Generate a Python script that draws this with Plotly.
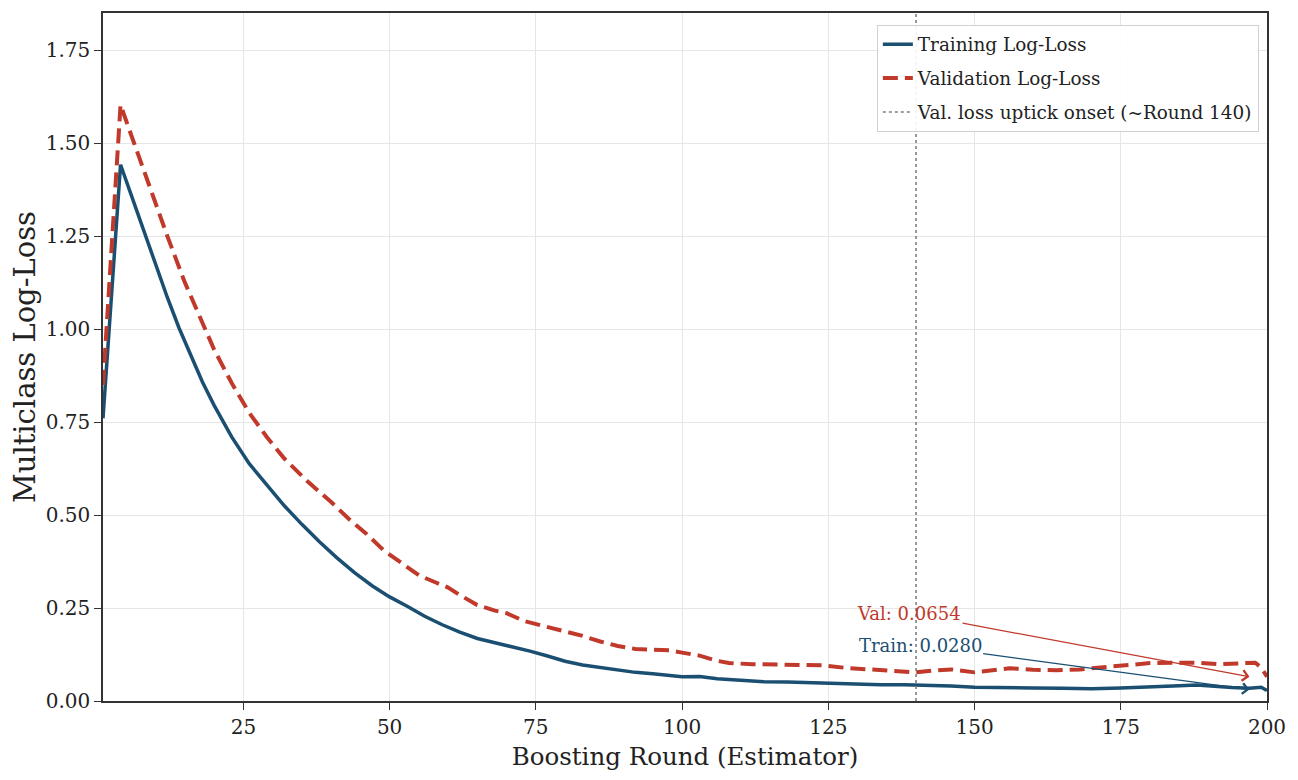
import plotly.graph_objects as go

# ---- data ----
train_rounds = [1, 2, 3, 4, 6, 8, 10, 12, 14, 16, 18, 20, 23, 26, 29, 32, 35, 38, 41, 44,
                47, 50, 53, 56, 59, 62, 65, 68, 71, 74, 77, 80, 83, 86, 89, 92, 95, 98, 100,
                103, 106, 110, 114, 118, 122, 126, 130, 134, 138, 142, 146, 150, 155, 160,
                165, 170, 175, 180, 185, 188, 191, 194, 197, 199, 200]
train_loss = [0.76, 0.99, 1.22, 1.442, 1.353, 1.262, 1.172, 1.085, 1.003, 0.928, 0.858,
              0.795, 0.71, 0.638, 0.58, 0.525, 0.475, 0.428, 0.385, 0.345, 0.31, 0.28,
              0.255, 0.228, 0.205, 0.185, 0.168, 0.157, 0.146, 0.134, 0.121, 0.107, 0.097,
              0.090, 0.083, 0.077, 0.073, 0.068, 0.065, 0.066, 0.060, 0.056, 0.052, 0.051,
              0.049, 0.048, 0.046, 0.044, 0.044, 0.043, 0.040, 0.037, 0.035, 0.035, 0.034,
              0.033, 0.035, 0.037, 0.041, 0.043, 0.039, 0.036, 0.034, 0.037, 0.028]

val_rounds = [1, 2, 3, 4, 6, 9, 12, 15, 18, 20, 23, 26, 29, 32, 36, 40, 43, 46, 49, 52, 55,
              58, 60, 62, 65, 68, 70, 73, 76, 80, 83, 86, 89, 92, 95, 98, 100, 103, 106,
              108, 112, 116, 120, 124, 128, 132, 136, 140, 143, 146, 150, 153, 156, 160,
              164, 168, 172, 176, 180, 184, 188, 192, 196, 198, 199, 200]
val_loss = [0.85, 1.10, 1.35, 1.603, 1.514, 1.38, 1.25, 1.125, 1.013, 0.945, 0.855, 0.775,
            0.71, 0.652, 0.59, 0.535, 0.49, 0.45, 0.405, 0.37, 0.338, 0.318, 0.305, 0.285,
            0.258, 0.243, 0.236, 0.215, 0.203, 0.187, 0.175, 0.160, 0.148, 0.140, 0.139,
            0.136, 0.130, 0.122, 0.108, 0.102, 0.099, 0.097, 0.097, 0.096, 0.089, 0.085,
            0.080, 0.077, 0.082, 0.085, 0.077, 0.083, 0.088, 0.084, 0.083, 0.085, 0.090,
            0.096, 0.102, 0.103, 0.103, 0.099, 0.102, 0.103, 0.090, 0.0654]

uptick_round = 140
final_train = 0.0280
final_val = 0.0654
x_ticks = [25, 50, 75, 100, 125, 150, 175, 200]
y_ticks = [0.0, 0.25, 0.5, 0.75, 1.0, 1.25, 1.5, 1.75]

TRAIN_C = "#1b4f72"
VAL_C = "#c0392b"
FONT = "DejaVu Serif"

fig = go.Figure()
fig.add_trace(go.Scatter(x=train_rounds, y=train_loss, mode="lines",
                         name="Training Log-Loss", legendgroup="a",
                         line=dict(color=TRAIN_C, width=3.5)))
fig.add_trace(go.Scatter(x=val_rounds, y=val_loss, mode="lines",
                         name="Validation Log-Loss", legendgroup="b",
                         line=dict(color=VAL_C, width=4, dash="15px,7px")))
fig.add_trace(go.Scatter(x=[uptick_round, uptick_round], y=[0, 1.85], mode="lines",
                         name="Val. loss uptick onset (~Round 140)", legendgroup="c",
                         line=dict(color="#7f7f7f", width=1.6, dash="dot")))

fig.add_annotation(x=197, y=final_val, ax=138.8, ay=0.236, axref="x", ayref="y",
                   xref="x", yref="y", text=f"Val: {final_val:.4f}",
                   font=dict(family=FONT, size=18, color=VAL_C),
                   showarrow=True, arrowhead=4, arrowsize=1.6, arrowwidth=1.3,
                   arrowcolor=VAL_C)
fig.add_annotation(x=197, y=0.031, ax=140.7, ay=0.150, axref="x", ayref="y",
                   xref="x", yref="y", text=f"Train: {final_train:.4f}",
                   font=dict(family=FONT, size=18, color=TRAIN_C),
                   showarrow=True, arrowhead=4, arrowsize=1.6, arrowwidth=1.3,
                   arrowcolor=TRAIN_C)

axis_common = dict(showgrid=True, gridcolor="#e6e6e6", gridwidth=1,
                   showline=True, linecolor="#333333", linewidth=1.5, mirror=True,
                   ticks="outside", ticklen=7, tickwidth=1.3, tickcolor="#333333",
                   tickfont=dict(family=FONT, size=20, color="#222222"),
                   zeroline=False)

fig.update_xaxes(range=[1, 200], tickvals=x_ticks,
                 title=dict(text="Boosting Round (Estimator)",
                            font=dict(family=FONT, size=24.5, color="#222222"),
                            standoff=10),
                 **axis_common)
fig.update_yaxes(range=[0, 1.85], tickvals=y_ticks, tickformat=".2f",
                 title=dict(text="Multiclass Log-Loss",
                            font=dict(family=FONT, size=29, color="#222222"),
                            standoff=8),
                 **axis_common)

fig.update_layout(
    width=1298, height=780,
    margin=dict(l=95, r=39, t=3, b=87),
    paper_bgcolor="white", plot_bgcolor="white",
    font=dict(family=FONT, color="#222222"),
    legend=dict(x=0.993, y=0.983, xanchor="right", yanchor="top",
                bgcolor="rgba(255,255,255,0.9)", bordercolor="#d0d0d0", borderwidth=1,
                font=dict(family=FONT, size=18.4, color="#222222"),
                traceorder="grouped", tracegroupgap=7),
    showlegend=True,
)

fig.write_html("out.html")
